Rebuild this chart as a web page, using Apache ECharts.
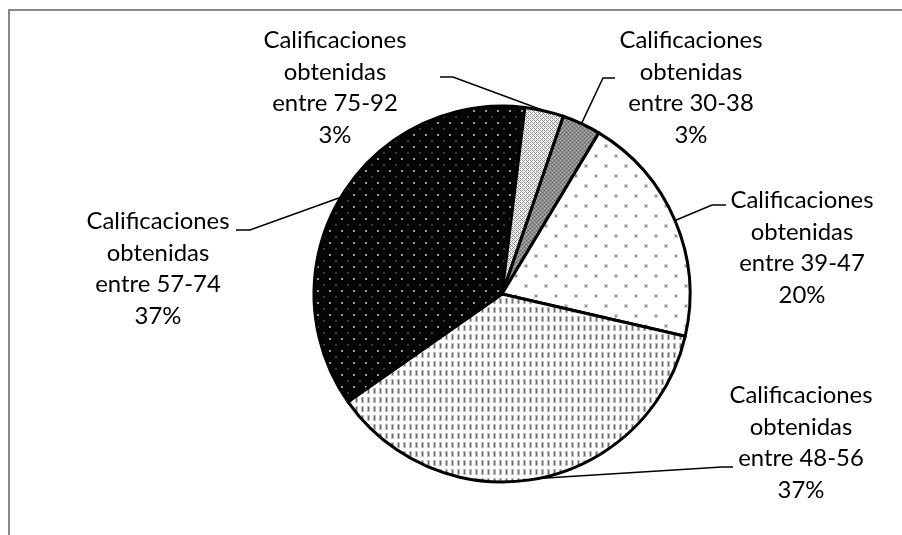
<!DOCTYPE html>
<html>
<head>
<meta charset="utf-8">
<script src="https://cdn.jsdelivr.net/npm/echarts@6/dist/echarts.min.js"></script>
<style>
html,body{margin:0;padding:0;background:#fff;}
#chart{width:902px;height:535px;}
</style>
</head>
<body>
<div id="chart"></div>
<script>
// ---- data ----
const ranges = ['30-38', '39-47', '48-56', '57-74', '75-92'];
const counts = [1, 6, 11, 11, 1];
const namePrefix = 'Calificaciones obtenidas entre ';

// ---- layout (label placement, not data) ----
const labelPlacement = [
  { center: [691, 88],  end: [615, 78],  turn: [603, 78] },
  { center: [802, 248], end: [726, 205], turn: [712, 205] },
  { center: [801, 443], end: [733, 467], turn: [722, 467] },
  { center: [158, 269], end: [236, 230], turn: [250, 230] },
  { center: [335, 88],  end: [440, 77],  turn: [453, 77] }
];

const FONT = 'Lato';
const mctx = document.createElement('canvas').getContext('2d');
mctx.font = '100px ' + FONT;
const fontSize = Math.round(100 * 143 / mctx.measureText('Calificaciones').width * 10) / 10;

function tile(w, h, bg, draw) {
  const c = document.createElement('canvas');
  c.width = w; c.height = h;
  const g = c.getContext('2d');
  g.fillStyle = bg; g.fillRect(0, 0, w, h);
  draw(g);
  return c;
}
const patterns = [
  // 30-38 : mid grey fine checker
  tile(4, 4, '#8a8a8a', g => {
    g.fillStyle = '#b8b8b8'; g.fillRect(0, 0, 1, 1); g.fillRect(2, 2, 1, 1);
    g.fillStyle = '#666666'; g.fillRect(2, 0, 1, 1); g.fillRect(0, 2, 1, 1);
  }),
  // 39-47 : white with sparse grey dots
  tile(20, 20, '#ffffff', g => {
    g.fillStyle = '#d8d8d8'; g.fillRect(4, 4, 4, 4); g.fillRect(14, 14, 4, 4);
    g.fillStyle = '#8e8e8e'; g.fillRect(5, 5, 2, 2); g.fillRect(15, 15, 2, 2);
  }),
  // 48-56 : white with vertical dashes
  tile(6, 9, '#ffffff', g => {
    g.fillStyle = '#bdbdbd'; g.fillRect(1, 1, 3, 6);
    g.fillStyle = '#6a6a6a'; g.fillRect(2, 2, 1, 4);
  }),
  // 57-74 : black with small light dots
  tile(12, 12, '#050505', g => {
    g.fillStyle = '#9a9a9a'; g.fillRect(5, 2, 2, 2);
    g.fillStyle = '#3a3a3a'; g.fillRect(11, 8, 2, 2); g.fillRect(0, 8, 1, 2);
  }),
  // 75-92 : light crosshatch
  tile(4, 4, '#f2f2f2', g => {
    g.fillStyle = '#959595';
    for (let x = 0; x < 4; x++) for (let y = 0; y < 4; y++) {
      if ((x + y) % 4 === 0 || ((x - y) + 4) % 4 === 2) g.fillRect(x, y, 1, 1);
    }
  })
];

const chart = echarts.init(document.getElementById('chart'), null, { renderer: 'canvas' });
chart.setOption({
  animation: false,
  backgroundColor: '#ffffff',
  graphic: [{
    type: 'rect',
    shape: { x: 9, y: 10, width: 1200, height: 1200 },
    style: { fill: null, stroke: '#888888', lineWidth: 2 },
    silent: true
  }],
  series: [{
    type: 'pie',
    center: [502, 294],
    radius: 188,
    startAngle: 71,
    clockwise: true,
    percentPrecision: 0,
    avoidLabelOverlap: false,
    data: ranges.map((r, i) => ({
      name: namePrefix + r,
      value: counts[i],
      itemStyle: { color: { image: patterns[i], repeat: 'repeat' } }
    })),
    itemStyle: { borderColor: '#000000', borderWidth: 3 },
    label: {
      show: true,
      position: 'outside',
      fontFamily: FONT,
      fontSize: fontSize,
      lineHeight: 31.5,
      color: '#000000',
      align: 'center',
      formatter: p => p.name.replace(namePrefix, 'Calificaciones\nobtenidas\nentre ') + '\n' + p.percent + '%'
    },
    labelLine: {
      show: true,
      length: 10,
      length2: 10,
      lineStyle: { color: '#000000', width: 1.5 }
    },
    labelLayout: function (params) {
      const lp = labelPlacement[params.dataIndex];
      const pts = params.labelLinePoints;
      const start = pts && pts[0] ? pts[0] : lp.turn;
      return {
        x: lp.center[0],
        y: lp.center[1],
        align: 'center',
        verticalAlign: 'middle',
        labelLinePoints: [start, lp.turn, lp.end]
      };
    },
    emphasis: { disabled: true }
  }]
});
</script>
</body>
</html>
